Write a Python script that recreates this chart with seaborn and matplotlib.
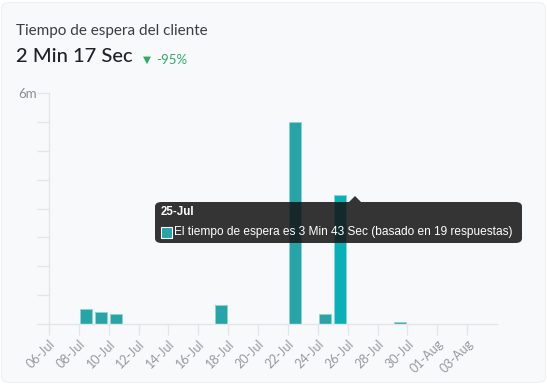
import matplotlib
matplotlib.use("Agg")
import matplotlib.pyplot as plt
from matplotlib.patches import FancyBboxPatch, Polygon, Rectangle
from matplotlib.transforms import ScaledTranslation
import seaborn as sns
import pandas as pd

# ---- data ----
all_days = ["06-Jul", "07-Jul", "08-Jul", "09-Jul", "10-Jul", "11-Jul", "12-Jul", "13-Jul",
            "14-Jul", "15-Jul", "16-Jul", "17-Jul", "18-Jul", "19-Jul", "20-Jul", "21-Jul",
            "22-Jul", "23-Jul", "24-Jul", "25-Jul", "26-Jul", "27-Jul", "28-Jul", "29-Jul",
            "30-Jul", "31-Jul", "01-Aug", "02-Aug", "03-Aug", "04-Aug"]
bar_days = ["08-Jul", "09-Jul", "10-Jul", "17-Jul", "22-Jul", "24-Jul", "25-Jul", "29-Jul"]
wait_minutes = [0.39, 0.30, 0.26, 0.49, 5.25, 0.26, 3.35, 0.05]
tick_labels = ["06-Jul", "08-Jul", "10-Jul", "12-Jul", "14-Jul", "16-Jul", "18-Jul", "20-Jul",
               "22-Jul", "24-Jul", "26-Jul", "28-Jul", "30-Jul", "01-Aug", "03-Aug"]
highlight_day = "25-Jul"
title = "Tiempo de espera del cliente"
headline = "2 Min 17 Sec"
change = "-95%"
tooltip_title = "25-Jul"
tooltip_text = "El tiempo de espera es 3 Min 43 Sec (basado en 19 respuestas)"

W, H = 547, 384
sns.set_theme(style="white")
plt.rcParams["font.family"] = ["Lato", "DejaVu Sans"]

fig = plt.figure(figsize=(W / 100, H / 100), dpi=100)
fig.patch.set_facecolor("white")

def fx(x):
    return x / W

def fy(y):
    return 1 - y / H

# card background
card = FancyBboxPatch((fx(1.5), fy(382.5)), fx(544), 380 / H,
                      boxstyle="round,pad=0,rounding_size=0.015",
                      transform=fig.transFigure, fc="#f8f9fb", ec="#eef0f3", lw=0.8,
                      zorder=-5)
fig.patches.append(card)

ax_left, ax_right, ax_top, ax_bot = 49, 497, 93, 324
ax = fig.add_axes([fx(ax_left), fy(ax_bot), fx(ax_right - ax_left), (ax_bot - ax_top) / H])
ax.set_facecolor("none")
ax.set_zorder(1)

df = pd.DataFrame({"day": bar_days, "minutes": wait_minutes})
base_color = "#27a4a7"
sns.barplot(data=df, x="day", y="minutes", order=all_days, color=base_color,
            width=0.8, saturation=1, ax=ax, edgecolor="#8fd3d4", linewidth=0.6)

for patch in ax.patches:
    cx = patch.get_x() + patch.get_width() / 2
    if abs(cx - all_days.index(highlight_day)) < 0.01:
        patch.set_facecolor("#08b1b8")

ax.set_xlim(-0.5, len(all_days) - 0.5)
ax.set_ylim(0, 6)
ax.set_xlabel("")
ax.set_ylabel("")

tick_pos = [all_days.index(t) - 0.5 for t in tick_labels]
ax.set_xticks(tick_pos)
ax.set_xticklabels(tick_labels, rotation=45, ha="right", rotation_mode="anchor",
                   fontsize=9, color="#95989e")
offset = ScaledTranslation(7 / 100, -1 / 100, fig.dpi_scale_trans)
for lbl in ax.get_xticklabels():
    lbl.set_transform(lbl.get_transform() + offset)
ax.set_yticks([i * 0.75 for i in range(9)])
ax.set_yticklabels([""] * 8 + ["6m"], fontsize=9.5, color="#8a8d93")
ax.tick_params(axis="x", length=8, width=1, color="#e3e5e8", pad=2, bottom=True)
ax.tick_params(axis="y", length=9, width=1, color="#e3e5e8", pad=0, left=True)

for s in ["top", "right"]:
    ax.spines[s].set_visible(False)
for s in ["left", "bottom"]:
    ax.spines[s].set_color("#e3e5e8")
    ax.spines[s].set_linewidth(1)
ax.grid(False)

# header texts
fig.text(fx(16), fy(31), title, fontsize=11, color="#3a3d42", va="center", ha="left")
fig.text(fx(16), fy(57), headline, fontsize=14.5, color="#1f2328", va="center", ha="left",
         weight="medium")
fig.text(fx(143), fy(60), "\u25BC", fontsize=7.5, color="#2eaa6a", va="center", ha="left",
         family="DejaVu Sans")
fig.text(fx(156), fy(60), change, fontsize=9.5, color="#2eaa6a", va="center", ha="left")

# tooltip
tip = FancyBboxPatch((fx(155), fy(243)), fx(522 - 155), 41 / H,
                     boxstyle="round,pad=0,rounding_size=0.012",
                     transform=fig.transFigure, fc="#141414", ec="none", alpha=0.86,
                     zorder=10)
fig.patches.append(tip)
arrow = Polygon([(fx(349), fy(202)), (fx(361), fy(202)), (fx(355), fy(196))],
                closed=True, transform=fig.transFigure, fc="#141414", ec="none",
                alpha=0.86, zorder=10)
fig.patches.append(arrow)
fig.text(fx(161), fy(212), tooltip_title, fontsize=8.3, color="white", weight="bold",
         va="center", ha="left", family="Liberation Sans", zorder=11)
sw = Rectangle((fx(161), fy(238)), fx(11), 11 / H, transform=fig.transFigure,
               fc=base_color, ec="white", lw=0.8, zorder=11)
fig.patches.append(sw)
fig.text(fx(174), fy(231.5), tooltip_text, fontsize=8.55, color="white",
         va="center", ha="left", family="Liberation Sans", zorder=11)

fig.savefig("out.png", dpi=100)
